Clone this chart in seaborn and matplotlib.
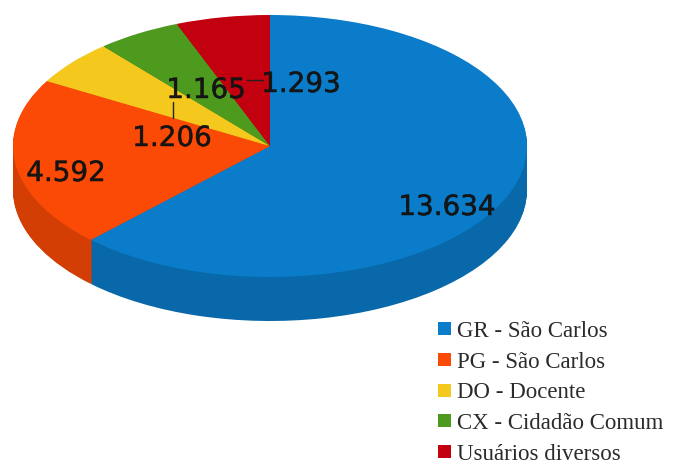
import matplotlib
matplotlib.use('Agg')
import numpy as np
import matplotlib.pyplot as plt
import matplotlib.patheffects as pe
import seaborn as sns
from matplotlib.patches import Patch

categories = ['GR - São Carlos', 'PG - São Carlos', 'DO - Docente', 'CX - Cidadão Comum', 'Usuários diversos']
values = [13634, 4592, 1206, 1165, 1293]
value_labels = ['13.634', '4.592', '1.206', '1.165', '1.293']
colors = ['#0a7cc9', '#fb4a06', '#f4c81c', '#4e9a1f', '#c3000f']

W, H = 681, 465
CX, CY, RX, RY, DEPTH = 270, 146, 257, 131, 44

sns.set_theme(style='white')
fig = plt.figure(figsize=(W / 100, H / 100), dpi=100)
ax = fig.add_axes([0, 0, 1, 1])

palette = sns.color_palette(colors)
side = [tuple(c * 0.84 for c in col) for col in palette]

# stack of darker pies gives the side wall
for px in range(DEPTH, 0, -1):
    ax.pie(values, colors=side, startangle=90, counterclock=False, radius=1,
           center=(0, -px / RY), wedgeprops=dict(linewidth=0.6, edgecolor='none'))
wedges, _ = ax.pie(values, colors=palette, startangle=90, counterclock=False, radius=1,
                   center=(0, 0), wedgeprops=dict(linewidth=0))

# pie axes are forced equal, stretch to the flattened ellipse
ax.set_aspect('auto')
ax.set_xlim(-CX / RX, (W - CX) / RX)
ax.set_ylim((CY - H) / RY, CY / RY)
ax.axis('off')


def to_fig(x, y):
    return x / W, 1 - y / H


label_pos = [(447, 207), (66, 173), (172, 138), (206, 90), (301, 84)]
for txt, (x, y) in zip(value_labels, label_pos):
    fx, fy = to_fig(x, y)
    fig.text(fx, fy, txt, ha='center', va='center', fontsize=20,
             family='DejaVu Sans', color='#141414', alpha=0.88,
             path_effects=[pe.withStroke(linewidth=0.4, foreground='#141414')])

# leader lines
for (x0, y0), (x1, y1) in [((172.5, 102), (172.5, 118)), ((247, 80), (263, 80))]:
    a, b = to_fig(x0, y0), to_fig(x1, y1)
    fig.add_artist(plt.Line2D([a[0], b[0]], [a[1], b[1]], color='#222222', lw=1))

handles = [Patch(facecolor=c, edgecolor='none', label=n) for c, n in zip(palette, categories)]
fx, fy = to_fig(438, 321)
leg = fig.legend(handles=handles, loc='upper left', bbox_to_anchor=(fx, fy), frameon=False,
                 prop=dict(family='Liberation Serif', size=16.5), labelcolor='#2b2b2b',
                 handlelength=0.55, handleheight=0.5, handletextpad=0.28,
                 labelspacing=0.42, borderpad=0, borderaxespad=0)

fig.savefig('out.png', dpi=100, facecolor='white')
